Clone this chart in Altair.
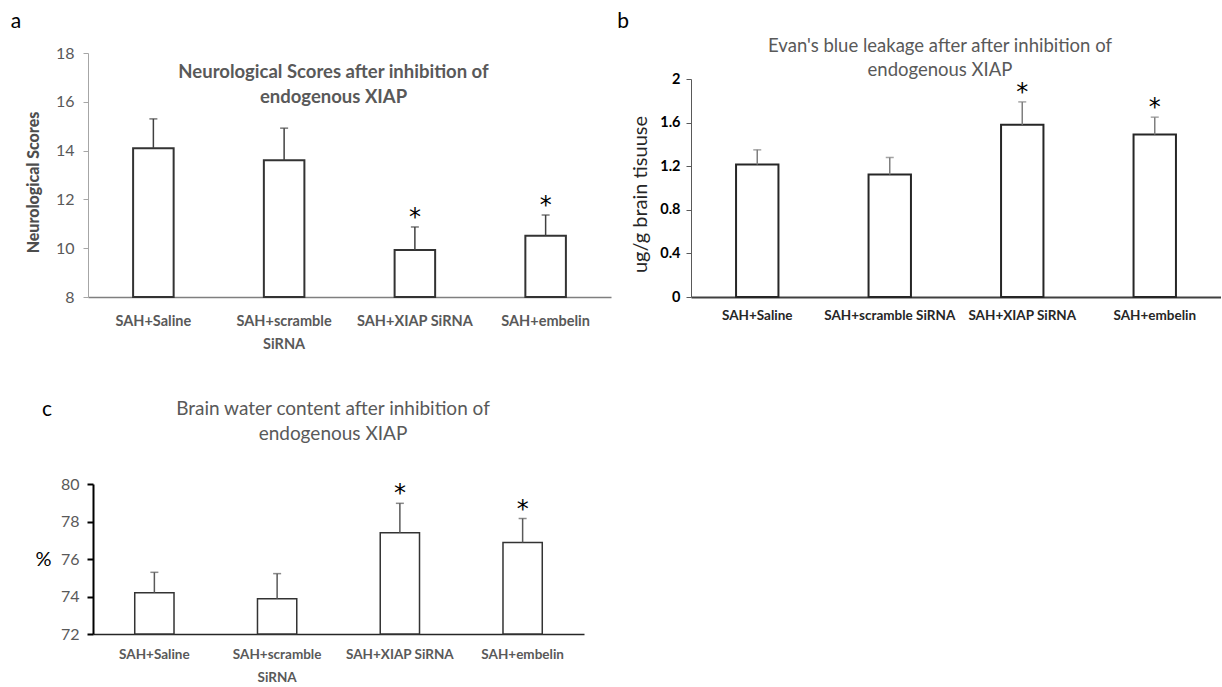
import altair as alt
import pandas as pd

FONT = "Lato"

groups = ["SAH+Saline", "SAH+scramble SiRNA", "SAH+XIAP SiRNA", "SAH+embelin"]
stars = ["", "", "*", "*"]

neuro_mean = [14.1, 13.6, 9.93, 10.51]
neuro_sd = [1.2, 1.32, 0.94, 0.85]

evans_mean = [1.215, 1.125, 1.58, 1.49]
evans_sd = [0.135, 0.155, 0.21, 0.16]

water_mean = [74.2, 73.88, 77.4, 76.88]
water_sd = [1.09, 1.34, 1.57, 1.28]

neuro_ticks = [8, 10, 12, 14, 16, 18]
evans_ticks = [0, 0.4, 0.8, 1.2, 1.6, 2]
water_ticks = [72, 74, 76, 78, 80]

title_a = ["Neurological Scores after inhibition of", "endogenous XIAP"]
title_b = ["Evan's blue leakage after after inhibition of", "endogenous XIAP"]
title_c = ["Brain water content after inhibition of", "endogenous XIAP"]

SPLIT = "datum.value == 'SAH+scramble SiRNA' ? ['SAH+scramble', 'SiRNA'] : datum.label"


def panel(mean, sd, *, ymin, y_scale, y_axis, x_scale, x_axis, width, height,
          bar_color, bar_width, err_color, err_width, title, letter,
          letter_x, letter_y, spacer_x, spacer_y):
    df = pd.DataFrame({"group": groups, "mean": mean, "sd": sd, "star": stars})
    base = alt.Chart(df).transform_calculate(
        upper="datum.mean + datum.sd"
    ).encode(x=alt.X("group:N", sort=groups, scale=x_scale, axis=x_axis))

    bars = base.mark_bar(fill="white", stroke=bar_color, strokeWidth=bar_width).encode(
        y=alt.Y("mean:Q", scale=y_scale, axis=y_axis),
        y2=alt.datum(ymin),
    )
    err = base.mark_rule(color=err_color, strokeWidth=err_width).encode(
        y=alt.Y("mean:Q", axis=y_axis), y2="upper:Q"
    )
    cap = base.mark_tick(color=err_color, thickness=err_width, size=8).encode(
        y=alt.Y("upper:Q", axis=y_axis)
    )
    star = base.mark_text(font="DejaVu Sans", fontSize=24, color="black", dy=-2,
                          baseline="alphabetic", align="center").encode(
        y=alt.Y("upper:Q", axis=y_axis), text="star:N"
    )
    lab = alt.Chart(pd.DataFrame({"t": [letter]})).mark_text(
        font=FONT, fontSize=21, color="black", align="center", baseline="alphabetic"
    ).encode(text="t:N", x=alt.value(letter_x), y=alt.value(letter_y))
    spacer = alt.Chart(pd.DataFrame({"t": [0]})).mark_rect(fill="white").encode(
        x=alt.value(spacer_x), x2=alt.value(spacer_x + 2),
        y=alt.value(spacer_y), y2=alt.value(spacer_y + 2),
    )
    return alt.layer(spacer, bars, err, cap, star, lab).properties(
        width=width, height=height, title=title
    )


# ---------- panel a ----------
chart_a = panel(
    neuro_mean, neuro_sd, ymin=8,
    y_scale=alt.Scale(domain=[8, 18], nice=False, zero=False),
    y_axis=alt.Axis(values=neuro_ticks, domainColor="#a6a6a6", domainWidth=1,
                    tickColor="#a6a6a6", tickSize=5, labelColor="#595959",
                    labelFont=FONT, labelFontSize=16, labelPadding=9,
                    title="Neurological  Scores", titleFont=FONT, titleFontSize=16,
                    titleFontWeight=900, titleColor="#4d4d4d", titleAngle=270,
                    titleBaseline="middle", titleAlign="center", titleX=-55, titleY=129),
    x_scale=alt.Scale(paddingInner=0.69, paddingOuter=0.345),
    x_axis=alt.Axis(title=None, labelAngle=0, ticks=False, tickSize=0,
                    domainColor="#7f7f7f", domainWidth=1.5, labelColor="#595959",
                    labelFont=FONT, labelFontSize=14.5, labelFontWeight="bold",
                    labelPadding=17, labelLineHeight=23, labelExpr=SPLIT),
    width=523, height=244,
    bar_color="#333333", bar_width=2, err_color="#404040", err_width=1.5,
    title=alt.Title(text=title_a, font=FONT, fontSize=18.5, fontWeight="bold",
                    color="#595959", anchor="middle", frame="group", offset=0,
                    baseline="top", dx=-16, dy=106, lineHeight=25),
    letter="a", letter_x=-72, letter_y=-25, spacer_x=-88, spacer_y=-53,
)

# ---------- panel b ----------
chart_b = panel(
    evans_mean, evans_sd, ymin=0,
    y_scale=alt.Scale(domain=[0, 2], range=[244, 26], nice=False, zero=False),
    y_axis=alt.Axis(values=evans_ticks, format=".1~f", domainColor="#595959",
                    domainWidth=1, tickColor="#595959", tickSize=5,
                    labelColor="black", labelFont=FONT, labelFontSize=14.5,
                    labelFontWeight="bold", labelPadding=6,
                    title="ug/g brain tisuuse", titleFont=FONT, titleFontSize=20,
                    titleFontWeight="normal", titleColor="#262626", titleAngle=270,
                    titleBaseline="middle", titleAlign="center", titleX=-51, titleY=141),
    x_scale=alt.Scale(paddingInner=0.68, paddingOuter=0.34),
    x_axis=alt.Axis(title=None, labelAngle=0, ticks=False, tickSize=0,
                    domainColor="#404040", domainWidth=2, labelColor="#262626",
                    labelFont=FONT, labelFontSize=13.5, labelFontWeight="bold",
                    labelPadding=11),
    width=530, height=244,
    bar_color="#262626", bar_width=2, err_color="#7f7f7f", err_width=1.5,
    title=alt.Title(text=title_b, font=FONT, fontSize=18.5, fontWeight="normal",
                    color="#595959", anchor="middle", frame="group", offset=0,
                    baseline="top", dx=-16, dy=79, lineHeight=24),
    letter="b", letter_x=-68, letter_y=-25, spacer_x=0, spacer_y=-53,
)

# ---------- panel c ----------
chart_c = panel(
    water_mean, water_sd, ymin=72,
    y_scale=alt.Scale(domain=[72, 80], nice=False, zero=False),
    y_axis=alt.Axis(values=water_ticks, offset=-5, domainColor="black", domainWidth=2,
                    tickColor="black", tickWidth=2, tickSize=6,
                    labelColor="#595959", labelFont=FONT, labelFontSize=16,
                    labelPadding=8,
                    title="%", titleFont=FONT, titleFontSize=20,
                    titleFontWeight="normal", titleColor="black", titleAngle=0,
                    titleBaseline="middle", titleAlign="center", titleX=-50, titleY=75),
    x_scale=alt.Scale(range=[5, 496], paddingInner=0.68, paddingOuter=0.34),
    x_axis=alt.Axis(title=None, labelAngle=0, ticks=False, tickSize=0,
                    domainColor="#262626", domainWidth=1.5, labelColor="#595959",
                    labelFont=FONT, labelFontSize=13.5, labelFontWeight="bold",
                    labelPadding=13, labelLineHeight=23, labelExpr=SPLIT),
    width=496, height=150,
    bar_color="#333333", bar_width=1.5, err_color="#595959", err_width=1.5,
    title=alt.Title(text=title_c, font=FONT, fontSize=19, fontWeight="normal",
                    color="#595959", anchor="middle", frame="group", offset=0,
                    baseline="top", dx=-3, dy=60, lineHeight=25),
    letter="c", letter_x=-41, letter_y=-68, spacer_x=0, spacer_y=-100,
)

chart = alt.concat(
    chart_a, chart_b, chart_c, columns=2,
    spacing={"row": 187, "column": 80}, bounds="flush",
).properties(padding=0).configure_view(stroke=None).configure_axis(grid=False)

chart.save("out.html", embed_options={"renderer": "svg", "actions": False})
